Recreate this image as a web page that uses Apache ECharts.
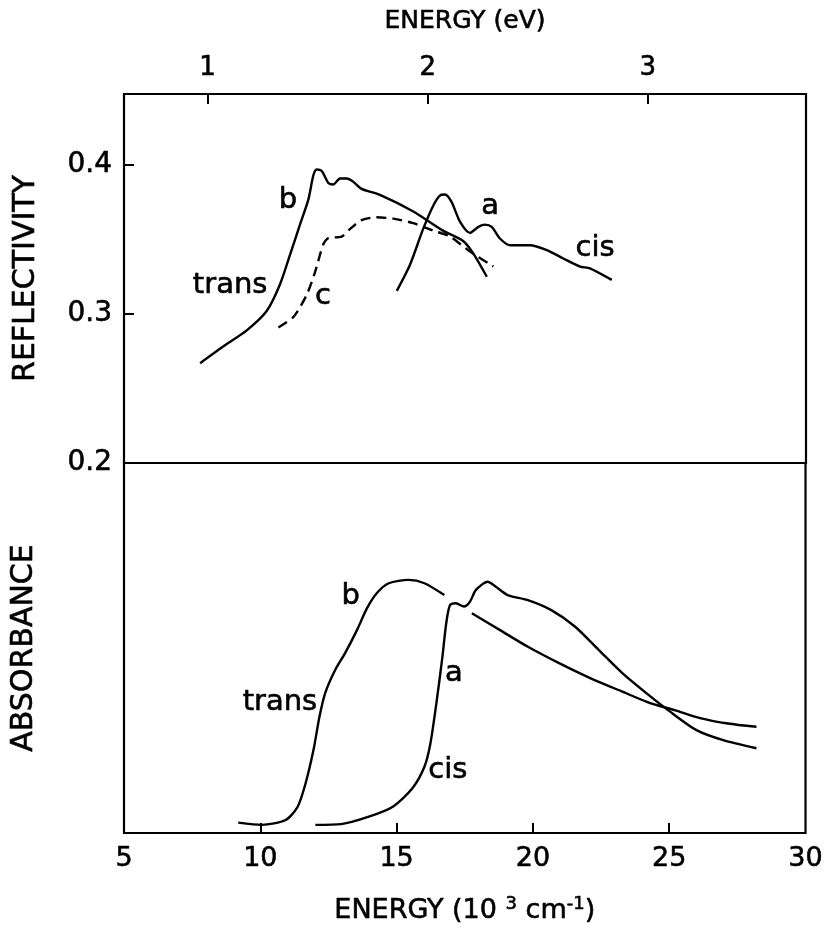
<!DOCTYPE html>
<html>
<head>
<meta charset="utf-8">
<script src="https://cdn.jsdelivr.net/npm/echarts@6/dist/echarts.min.js"></script>
<style>
  html, body { margin: 0; padding: 0; background: #fff; }
  #chart { width: 826px; height: 943px; }
</style>
</head>
<body>
<div id="chart"></div>
<script>
// energy in 10^3 cm^-1, 1 eV = 8.0655 x 10^3 cm^-1
const EV_TO_K = 8.0655
const evTicks = [1, 2, 3]
const kTicks = [5, 10, 15, 20, 25, 30]
const reflTicks = [0.2, 0.3, 0.4]

// reflectivity, trans (b)
const reflTransX = [7.79, 8.70, 9.50, 10.23, 10.72, 11.09, 11.45, 11.76, 11.94, 12.06, 12.25, 12.49, 12.67, 12.92, 13.16, 13.39, 13.71, 14.38, 15.59, 16.69, 17.43, 17.79, 18.30]
const reflTransY = [0.267, 0.279, 0.289, 0.302, 0.320, 0.340, 0.360, 0.377, 0.393, 0.397, 0.396, 0.388, 0.387, 0.391, 0.391, 0.389, 0.384, 0.380, 0.369, 0.356, 0.349, 0.341, 0.325]

// reflectivity, dashed (c)
const reflCX = [10.66, 11.21, 11.70, 12.00, 12.31, 12.49, 12.98, 13.28, 13.71, 14.26, 14.87, 15.60, 16.34, 16.95, 17.68, 18.54]
const reflCY = [0.291, 0.298, 0.313, 0.328, 0.347, 0.351, 0.352, 0.357, 0.363, 0.365, 0.364, 0.361, 0.356, 0.352, 0.342, 0.332]

// reflectivity, cis (a)
const reflCisX = [15.00, 15.48, 15.97, 16.34, 16.58, 16.77, 17.01, 17.32, 17.68, 17.99, 18.23, 18.48, 18.78, 19.15, 19.88, 20.50, 21.10, 21.72, 22.08, 22.88]
const reflCisY = [0.3155, 0.3329, 0.3573, 0.3729, 0.3795, 0.3802, 0.3751, 0.3618, 0.3545, 0.3585, 0.3600, 0.3585, 0.3507, 0.3462, 0.3462, 0.3429, 0.3373, 0.3318, 0.3307, 0.3229]

// absorbance (arb. units), trans (b)
const absTransX = [9.19, 10.06, 10.93, 11.37, 11.66, 11.95, 12.17, 12.38, 12.75, 13.11, 13.55, 13.91, 14.27, 14.71, 15.44, 16.02, 16.75]
const absTransY = [0.028, 0.022, 0.035, 0.071, 0.134, 0.224, 0.314, 0.378, 0.441, 0.486, 0.549, 0.607, 0.648, 0.675, 0.684, 0.675, 0.643]

// absorbance, trans high-energy part
const absTrans2X = [17.76, 18.78, 19.80, 20.96, 22.12, 23.28, 24.30, 25.20, 26.17, 27.15, 28.20]
const absTrans2Y = [0.594, 0.549, 0.504, 0.459, 0.418, 0.382, 0.351, 0.332, 0.310, 0.296, 0.287]

// absorbance, cis (a)
const absCisX = [12.02, 12.97, 13.98, 14.86, 15.58, 16.02, 16.24, 16.46, 16.68, 16.82, 16.96, 17.18, 17.47, 17.69, 17.91, 18.34, 18.63, 19.07, 19.79, 20.66, 21.54, 22.41, 23.28, 24.16, 25.03, 26.00, 26.98, 28.20]
const absCisY = [0.022, 0.024, 0.044, 0.071, 0.121, 0.179, 0.242, 0.351, 0.476, 0.567, 0.616, 0.621, 0.612, 0.625, 0.657, 0.679, 0.666, 0.643, 0.630, 0.603, 0.558, 0.495, 0.432, 0.378, 0.328, 0.278, 0.251, 0.229]

// curve labels
const reflLabelText = ['b', 'trans', 'c', 'a', 'cis']
const reflLabelX = [11.01, 8.89, 12.29, 18.42, 22.27]
const reflLabelY = [0.376, 0.319, 0.312, 0.372, 0.344]
const absLabelText = ['b', 'trans', 'a', 'cis']
const absLabelX = [13.32, 10.72, 17.10, 16.88]
const absLabelY = [0.638, 0.354, 0.432, 0.170]

const FONT = 'DejaVu Sans'
const INK = '#000'
// scanned print looks a bit heavier than a plain font
const heavy = { textBorderColor: INK, textBorderWidth: 0.6 }

function pairs(xs, ys) {
  return xs.map((x, i) => [x, ys[i]])
}

function labelData(texts, xs, ys) {
  return texts.map((t, i) => ({ name: t, value: [xs[i], ys[i]] }))
}

function curve(name, xs, ys, axis, dashed) {
  return {
    name: name,
    type: 'line',
    xAxisIndex: axis,
    yAxisIndex: axis,
    data: pairs(xs, ys),
    showSymbol: false,
    smooth: 0.25,
    lineStyle: { color: INK, width: 2.4, type: dashed ? [10, 6] : 'solid' },
    z: 3
  }
}

function labels(texts, xs, ys, axis) {
  return {
    type: 'scatter',
    xAxisIndex: axis,
    yAxisIndex: axis,
    symbolSize: 0,
    itemStyle: { opacity: 1 },
    emphasis: { disabled: true },
    data: labelData(texts, xs, ys),
    label: Object.assign({
      show: true,
      position: 'inside',
      formatter: p => p.name,
      fontFamily: FONT,
      fontSize: 29,
      color: INK,
      opacity: 1
    }, heavy),
    z: 4
  }
}

const chart = echarts.init(document.getElementById('chart'))
chart.setOption({
  backgroundColor: '#fff',
  animation: false,
  grid: [
    { left: 124, right: 20, top: 94, height: 369, show: true, borderColor: INK, borderWidth: 2.2 },
    { left: 124, right: 20, top: 463, height: 370, show: true, borderColor: INK, borderWidth: 2.2 }
  ],
  xAxis: [
    {
      gridIndex: 0,
      type: 'value',
      position: 'top',
      min: 5,
      max: 30,
      axisLine: { show: false },
      splitLine: { show: false },
      axisTick: {
        inside: true,
        length: 10,
        lineStyle: { color: INK, width: 2 },
        customValues: evTicks.map(v => v * EV_TO_K)
      },
      axisLabel: Object.assign({
        customValues: evTicks.map(v => v * EV_TO_K),
        formatter: v => String(Math.round(v / EV_TO_K)),
        margin: 13,
        fontFamily: FONT,
        fontSize: 26,
        color: INK
      }, heavy),
      name: 'ENERGY (eV)',
      nameLocation: 'middle',
      nameGap: 60,
      nameTextStyle: Object.assign({ fontFamily: FONT, fontSize: 25, color: INK }, heavy)
    },
    {
      gridIndex: 1,
      type: 'value',
      position: 'bottom',
      min: 5,
      max: 30,
      interval: 5,
      axisLine: { show: false },
      splitLine: { show: false },
      axisTick: {
        inside: true,
        length: 10,
        lineStyle: { color: INK, width: 2 },
        customValues: kTicks.slice(1, -1)
      },
      axisLabel: Object.assign({
        customValues: kTicks,
        margin: 12,
        fontFamily: FONT,
        fontSize: 27,
        color: INK
      }, heavy),
      name: 'ENERGY (10 {sup|3} cm{sup|-1})',
      nameLocation: 'middle',
      nameGap: 62,
      nameTextStyle: Object.assign({
        fontFamily: FONT,
        fontSize: 27,
        color: INK,
        rich: {
          sup: Object.assign({ fontFamily: FONT, fontSize: 18, color: INK, verticalAlign: 'top', padding: [0, 0, 14, 0] }, heavy)
        }
      }, heavy)
    }
  ],
  yAxis: [
    {
      gridIndex: 0,
      type: 'value',
      min: 0.2,
      max: 0.4477,
      axisLine: { show: false },
      splitLine: { show: false },
      axisTick: {
        inside: true,
        length: 10,
        lineStyle: { color: INK, width: 2 },
        customValues: [0.3, 0.4]
      },
      axisLabel: Object.assign({
        customValues: reflTicks,
        formatter: v => v.toFixed(1),
        margin: 12,
        fontFamily: FONT,
        fontSize: 28,
        color: INK
      }, heavy),
      name: 'REFLECTIVITY',
      nameLocation: 'middle',
      nameGap: 83,
      nameTextStyle: Object.assign({ fontFamily: FONT, fontSize: 30, color: INK }, heavy)
    },
    {
      gridIndex: 1,
      type: 'value',
      min: 0,
      max: 1,
      axisLine: { show: false },
      splitLine: { show: false },
      axisTick: { show: false },
      axisLabel: { show: false },
      name: 'ABSORBANCE',
      nameLocation: 'middle',
      nameGap: 85,
      nameTextStyle: Object.assign({ fontFamily: FONT, fontSize: 30, color: INK }, heavy)
    }
  ],
  series: [
    curve('refl trans', reflTransX, reflTransY, 0, false),
    curve('refl c', reflCX, reflCY, 0, true),
    curve('refl cis', reflCisX, reflCisY, 0, false),
    curve('abs trans', absTransX, absTransY, 1, false),
    curve('abs trans 2', absTrans2X, absTrans2Y, 1, false),
    curve('abs cis', absCisX, absCisY, 1, false),
    labels(reflLabelText, reflLabelX, reflLabelY, 0),
    labels(absLabelText, absLabelX, absLabelY, 1)
  ]
})
</script>
</body>
</html>
